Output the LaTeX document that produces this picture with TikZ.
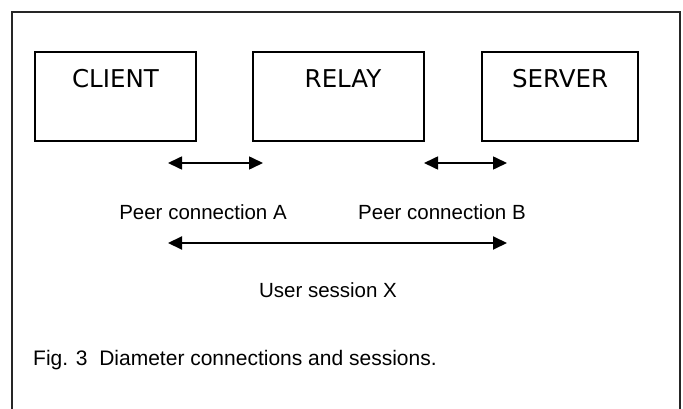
\documentclass[tikz,border=0pt]{standalone}
\usepackage{fontspec}
\setmainfont{Liberation Sans}
\newfontfamily\boxfont{DejaVu Sans}
\usetikzlibrary{arrows.meta}
\begin{document}
\begin{tikzpicture}[x=1pt,y=-1pt,
  entity/.style={draw=black,line width=1.6pt,inner sep=0pt},
  boxlabel/.style={inner sep=0pt,anchor=base,font=\boxfont\fontsize{24.5}{28}\selectfont},
  txt/.style={inner sep=0pt,font=\fontsize{20.5}{24}\selectfont},
  link/.style={line width=1.6pt,{Triangle[length=14pt,width=13pt]}-{Triangle[length=14pt,width=13pt]}}]
\useasboundingbox (0,0) rectangle (683,409);
\fill[white] (0,0) rectangle (683,409);
% outer frame (open at the bottom)
\draw[black!85,line width=1.6pt] (12,415) -- (12,12) -- (680,12) -- (680,415);
% boxes
\node[entity,minimum width=161pt,minimum height=89pt] (client) at (115.5,96.5) {};
\node[entity,minimum width=171pt,minimum height=89pt] (relay) at (338.5,96.5) {};
\node[entity,minimum width=156pt,minimum height=89pt] (server) at (560,96.5) {};
\node[boxlabel] (clientlbl) at (115.5,88) {CLIENT};
\node[boxlabel] (relaylbl) at (343,88) {RELAY};
\node[boxlabel] (serverlbl) at (560,88) {SERVER};
% arrows
\coordinate (a1) at (168,163);
\coordinate (a2) at (263,163);
\coordinate (b1) at (424,163);
\coordinate (b2) at (507,163);
\coordinate (x1) at (168,243);
\coordinate (x2) at (507,243);
\draw[link] (a1) -- (a2);
\draw[link] (b1) -- (b2);
\draw[link,line width=2pt] (x1) -- (x2);
% labels
\node[txt,anchor=base east] (pca) at (287,219) {Peer connection A};
\node[txt,anchor=base west] (pcb) at (358,219) {Peer connection B};
\node[txt,anchor=base] (usx) at (328,297) {User session X};
\node[txt,anchor=base west,font=\fontsize{21}{25}\selectfont] (cap) at (33,365) {Fig. 3\ \ Diameter connections and sessions.};
\end{tikzpicture}
\end{document}
